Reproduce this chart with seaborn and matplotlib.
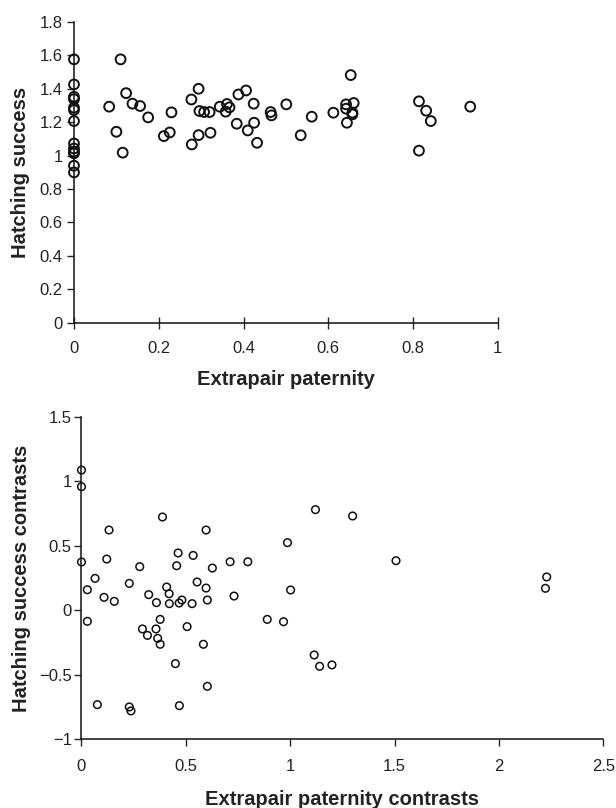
import pandas as pd
import seaborn as sns
import matplotlib.pyplot as plt
from matplotlib.ticker import FuncFormatter, MultipleLocator

# top panel: extrapair paternity vs hatching success
epp = [0, 0, 0, 0, 0, 0, 0, 0, 0, 0, 0, 0, 0,
       0.083, 0.100, 0.110, 0.115, 0.123, 0.138, 0.156, 0.175, 0.212, 0.226,
       0.230, 0.277, 0.278, 0.294, 0.294, 0.296, 0.307, 0.320, 0.322, 0.344,
       0.358, 0.361, 0.367, 0.384, 0.388, 0.406, 0.410, 0.424, 0.425, 0.432,
       0.464, 0.466, 0.501, 0.535, 0.561, 0.612, 0.653, 0.642, 0.660, 0.642,
       0.657, 0.657, 0.644, 0.814, 0.831, 0.842, 0.814, 0.935]
hatch = [1.575, 1.425, 1.351, 1.337, 1.286, 1.272, 1.206, 1.072, 1.042, 1.023,
         1.013, 0.939, 0.899,
         1.292, 1.142, 1.575, 1.017, 1.373, 1.310, 1.296, 1.228, 1.116, 1.138,
         1.258, 1.335, 1.066, 1.399, 1.122, 1.266, 1.260, 1.260, 1.136, 1.292,
         1.262, 1.308, 1.288, 1.190, 1.365, 1.389, 1.150, 1.310, 1.196, 1.076,
         1.260, 1.240, 1.306, 1.121, 1.232, 1.256, 1.481, 1.306, 1.314, 1.280,
         1.256, 1.246, 1.196, 1.324, 1.268, 1.206, 1.029, 1.292]

# bottom panel: independent contrasts
epp_c = [0.0, 0.0, 0.0, 0.028, 0.028, 0.065, 0.076, 0.108, 0.121, 0.132,
         0.157, 0.229, 0.229, 0.237, 0.279, 0.292, 0.316, 0.322, 0.357, 0.359,
         0.365, 0.377, 0.377, 0.388, 0.408, 0.420, 0.421, 0.450, 0.456, 0.463,
         0.468, 0.469, 0.481, 0.506, 0.530, 0.535, 0.554, 0.584, 0.597, 0.597,
         0.603, 0.603, 0.627, 0.712, 0.731, 0.797, 0.890, 0.968, 0.987, 1.002,
         1.115, 1.121, 1.141, 1.200, 1.299, 1.507, 2.229, 2.223]
hatch_c = [1.088, 0.959, 0.375, 0.160, -0.085, 0.248, -0.731, 0.101, 0.398, 0.623,
           0.070, 0.209, -0.749, -0.780, 0.339, -0.144, -0.194, 0.122, -0.144, 0.060,
           -0.217, -0.070, -0.263, 0.724, 0.181, 0.129, 0.052, -0.413, 0.346, 0.445,
           0.057, -0.739, 0.080, -0.126, 0.052, 0.426, 0.220, -0.263, 0.623, 0.173,
           0.080, -0.589, 0.328, 0.377, 0.111, 0.377, -0.070, -0.088, 0.525, 0.158,
           -0.346, 0.781, -0.434, -0.423, 0.732, 0.385, 0.259, 0.171]

top = pd.DataFrame({'epp': epp, 'hatch': hatch})
bot = pd.DataFrame({'epp': epp_c, 'hatch': hatch_c})

sns.set_style('ticks')
plt.rcParams['font.family'] = ['Liberation Sans', 'DejaVu Sans']

fmt = FuncFormatter(lambda v, p: f"{v:g}".replace('-', '\u2212'))
text_col = '#222222'

fig = plt.figure(figsize=(6.16, 8.08), dpi=100)
ax1 = fig.add_axes([0.1201, 0.6006, 0.688, 0.3725])
ax2 = fig.add_axes([0.1323, 0.085, 0.847, 0.399])

sns.scatterplot(data=top, x='epp', y='hatch', ax=ax1, marker='o', s=50,
                facecolors='none', edgecolors='#111111', linewidths=1.4,
                clip_on=False, zorder=3)
sns.scatterplot(data=bot, x='epp', y='hatch', ax=ax2, marker='o', s=30,
                facecolors='none', edgecolors='#111111', linewidths=1.1,
                clip_on=False, zorder=3)

ax1.set_xlim(0, 1)
ax1.set_ylim(0, 1.8)
ax1.xaxis.set_major_locator(MultipleLocator(0.2))
ax1.yaxis.set_major_locator(MultipleLocator(0.2))
ax1.set_xlabel('Extrapair paternity', fontsize=14.5, fontweight='bold',
               color=text_col, labelpad=10)
ax1.set_ylabel('Hatching success', fontsize=14.5, fontweight='bold',
               color=text_col, labelpad=7)
ax1.tick_params(axis='x', direction='inout', length=9, width=1, pad=9,
                labelsize=12, labelcolor=text_col)
ax1.tick_params(axis='y', direction='out', length=5, width=1, pad=3,
                labelsize=12, labelcolor=text_col)

ax2.set_xlim(0, 2.5)
ax2.set_ylim(-1, 1.5)
ax2.xaxis.set_major_locator(MultipleLocator(0.5))
ax2.yaxis.set_major_locator(MultipleLocator(0.5))
ax2.set_xlabel('Extrapair paternity contrasts', fontsize=14.5, fontweight='bold',
               color=text_col, labelpad=12)
ax2.set_ylabel('Hatching success contrasts', fontsize=14.5, fontweight='bold',
               color=text_col, labelpad=6)
ax2.tick_params(axis='both', direction='out', length=5, width=1, pad=9,
                labelsize=12, labelcolor=text_col)
ax2.tick_params(axis='y', pad=2)

for ax in (ax1, ax2):
    ax.xaxis.set_major_formatter(fmt)
    ax.yaxis.set_major_formatter(fmt)
    sns.despine(ax=ax)
    for side in ('left', 'bottom'):
        ax.spines[side].set_linewidth(1.1)
        ax.spines[side].set_color('#111111')

fig.savefig('out.png', dpi=100)
